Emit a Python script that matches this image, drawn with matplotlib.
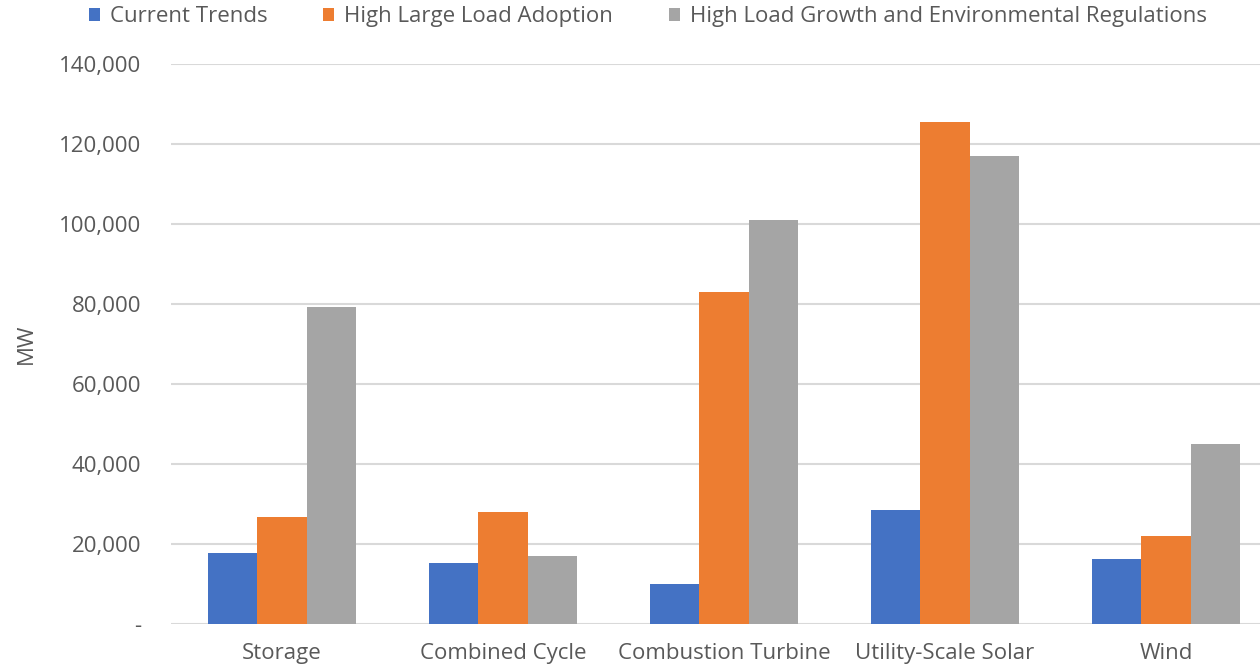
import numpy as np
import matplotlib
matplotlib.use("Agg")
import matplotlib.pyplot as plt
from matplotlib.ticker import FuncFormatter
from matplotlib.patches import Patch

plt.rcParams['font.family'] = ['Open Sans', 'DejaVu Sans']

categories = ['Storage', 'Combined Cycle', 'Combustion Turbine', 'Utility-Scale Solar', 'Wind']
series_names = ['Current Trends', 'High Large Load Adoption',
                'High Load Growth and Environmental Regulations']
current_trends = [17700, 15200, 10000, 28600, 16300]
high_large_load = [26800, 28100, 83000, 125500, 22100]
high_growth_env = [79200, 17000, 101000, 117000, 44900]
colors = ['#4472C4', '#ED7D31', '#A5A5A5']

text_color = '#595959'
grid_color = '#D9D9D9'

fig = plt.figure(figsize=(12.6, 6.65), dpi=100)
# plot area runs a little past the right edge of the figure
ax = fig.add_axes([0.1361, 0.0617, 0.877, 0.8421])

x = np.arange(len(categories))
width = 0.222
for i, (vals, name) in enumerate(zip([current_trends, high_large_load, high_growth_env], series_names)):
    ax.bar(x + (i - 1) * width, vals, width, color=colors[i], label=name, zorder=3)

ax.set_xlim(-0.5, len(categories) - 0.5)
ax.set_ylim(0, 140000)
ax.set_yticks(np.arange(0, 140001, 20000))
ax.yaxis.set_major_formatter(FuncFormatter(lambda v, p: '-' if v == 0 else f'{v:,.0f}'))
ax.set_xticks(x)
ax.set_xticklabels(categories)

ax.grid(axis='y', color=grid_color, linewidth=1.5, zorder=0)
ax.tick_params(axis='both', length=0, labelsize=16, labelcolor=text_color)
ax.tick_params(axis='y', pad=22)
ax.tick_params(axis='x', pad=14)
for s in ax.spines.values():
    s.set_visible(False)

ax.set_ylabel('MW', fontsize=16, color=text_color, labelpad=16)

handles = [Patch(facecolor=c, edgecolor='none') for c in colors]
fig.legend(handles, series_names, loc='center', bbox_to_anchor=(0.514, 0.975), ncol=3,
           frameon=False, fontsize=16, labelcolor=text_color,
           handlelength=0.5, handleheight=0.5, handletextpad=0.45, columnspacing=2.5)

fig.savefig('out.png', dpi=100)
